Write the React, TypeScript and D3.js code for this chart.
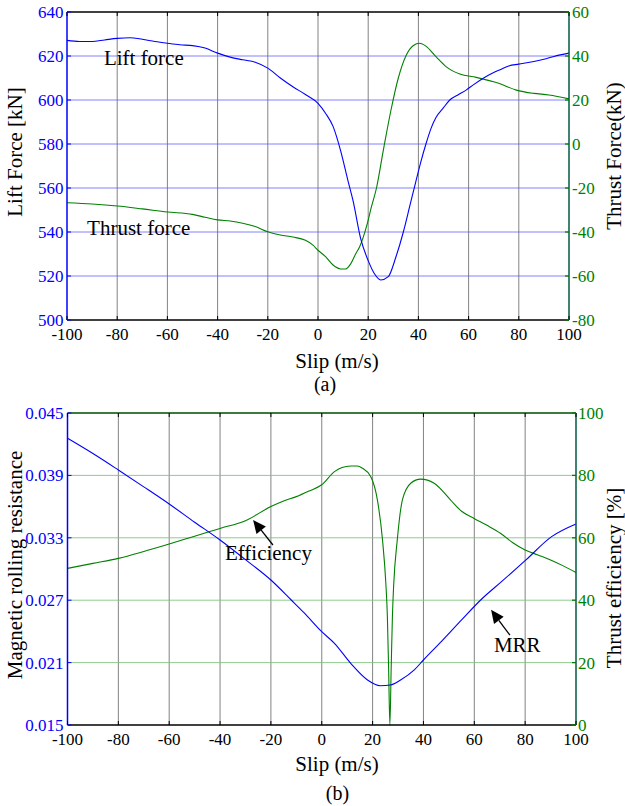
import React from "react";
import * as d3 from "d3";

// ---------- Data (a): Lift & thrust force vs slip ----------
const liftSlip = [-100, -95, -90, -85, -80, -75, -70, -65, -60, -55, -50, -45, -40, -35, -30, -25, -20, -15, -10, -5, 0, 3, 6, 9, 12, 14, 17, 20, 22.5, 25, 28, 31, 34, 36.5, 39, 41, 43, 45, 47, 50, 52.5, 56, 59, 62, 66, 70, 73, 76, 80, 86, 90, 94, 100];
const liftForce = [627.1, 626.6, 626.6, 627.3, 628.0, 628.3, 627.6, 626.6, 625.8, 625.1, 624.7, 623.6, 621.3, 619.5, 618.3, 617.2, 614.5, 610, 606, 602.5, 598.5, 594, 588, 577, 563, 554, 537, 527, 521, 518.2, 519.7, 528.5, 540, 551.5, 563, 572, 580, 587, 592, 596.5, 600, 602.5, 604.5, 607, 610, 612.5, 614, 615.5, 616.3, 617.5, 618.5, 619.8, 621.3];

const thrustSlip = [-100, -90, -80, -70, -60, -50, -45, -40, -35, -30, -25, -20, -15, -10, -5, -2, 0, 3, 6, 9, 11, 13, 15, 16.6, 19.3, 21.3, 23.3, 26, 29, 32, 35, 38, 40.5, 43, 47, 51, 56.5, 63, 72, 79, 86, 92, 100];
const thrustForce = [-26.7, -27.3, -28.2, -29.5, -30.9, -32, -33.3, -34.5, -35, -36, -37.5, -39.9, -41.4, -42.3, -43.8, -46, -48.3, -51.2, -55, -56.8, -56.8, -54.5, -50, -46.7, -37.6, -28.5, -20, -3, 15, 30, 40, 44.8, 45.8, 44.5, 39.7, 35.2, 31.8, 30.3, 27.6, 24.5, 23, 22.3, 20.5];

// ---------- Data (b): MRR & efficiency vs slip ----------
const mrrSlip = [-100, -90, -80, -70, -60, -50, -40, -30, -20, -12, -7, 0, 5, 11.4, 18, 23, 27, 31, 36.4, 40, 47, 55, 62.5, 70.7, 80.3, 90.4, 100];
const mrrValue = [0.04257, 0.0411, 0.03952, 0.0379, 0.03625, 0.0345, 0.03279, 0.0309, 0.02894, 0.02702, 0.0258, 0.02397, 0.02285, 0.02093, 0.01933, 0.01878, 0.01885, 0.01933, 0.0203, 0.02125, 0.02301, 0.0251, 0.02702, 0.02878, 0.03087, 0.03311, 0.03433];

const effSlip = [-100, -90, -80, -70, -60, -50, -40, -30, -20, -15, -10, -5, 0, 5, 8, 11.4, 14, 16, 19.3, 21.9, 23.9, 25.2, 25.8, 26.3, 26.8, 27.3, 27.8, 28.3, 29.7, 31.7, 35, 38.9, 44.2, 50.7, 55, 59.9, 65, 70.4, 75, 80, 85, 90, 95, 100];
const effValue = [50.2, 51.8, 53.4, 55.6, 58, 60.5, 63, 65.5, 70, 71.8, 73.2, 75, 77, 81.2, 82.5, 83, 83, 82.3, 79.6, 72.1, 59.3, 45.5, 35, 18, 0, 18, 35, 45, 59.3, 72.1, 77.5, 78.8, 77.5, 72.1, 68.5, 66.2, 64, 61.4, 58.5, 56.1, 54.5, 52.9, 51, 48.9];

// ---------- Ticks ----------
const xTicks = [-100, -80, -60, -40, -20, 0, 20, 40, 60, 80, 100];
const liftTicks = [500, 520, 540, 560, 580, 600, 620, 640];
const thrustTicks = [-80, -60, -40, -20, 0, 20, 40, 60];
const mrrTicks = [0.015, 0.021, 0.027, 0.033, 0.039, 0.045];
const effTicks = [0, 20, 40, 60, 80, 100];

const FONT = "'Liberation Serif', 'Times New Roman', serif";
const BLUE = "#0000ff";
const GREEN = "#008000";

const W = 625;
const H = 806;

export default function App() {
  // Panel (a)
  const a = { L: 67, R: 569, T: 12, B: 320 };
  const xa = d3.scaleLinear().domain([-100, 100]).range([a.L, a.R]);
  const yLift = d3.scaleLinear().domain([500, 640]).range([a.B, a.T]);
  const yThrust = d3.scaleLinear().domain([-80, 60]).range([a.B, a.T]);

  // Panel (b)
  const b = { L: 67.5, R: 576, T: 413, B: 725 };
  const xb = d3.scaleLinear().domain([-100, 100]).range([b.L, b.R]);
  const yMrr = d3.scaleLinear().domain([0.015, 0.045]).range([b.B, b.T]);
  const yEff = d3.scaleLinear().domain([0, 100]).range([b.B, b.T]);

  const mk = (xs: number[], ys: number[], sx: any, sy: any) =>
    d3
      .line<number>()
      .x((_, i) => sx(xs[i]))
      .y((d) => sy(d))
      .curve(d3.curveMonotoneX)(ys) || "";

  const liftPath = mk(liftSlip, liftForce, xa, yLift);
  const thrustPath = mk(thrustSlip, thrustForce, xa, yThrust);
  const mrrPath = mk(mrrSlip, mrrValue, xb, yMrr);
  const effPath = mk(effSlip, effValue, xb, yEff);

  const tickLen = 4;

  const arrow = (x1: number, y1: number, x2: number, y2: number) => {
    const ang = Math.atan2(y2 - y1, x2 - x1);
    const hl = 13;
    const hw = 6;
    const bx = x2 - hl * Math.cos(ang);
    const by = y2 - hl * Math.sin(ang);
    const px = -Math.sin(ang) * hw;
    const py = Math.cos(ang) * hw;
    return (
      <g>
        <line x1={x1} y1={y1} x2={bx} y2={by} stroke="#000" strokeWidth={1.3} />
        <polygon
          points={`${x2},${y2} ${bx + px},${by + py} ${bx - px},${by - py}`}
          fill="#000"
        />
      </g>
    );
  };

  return (
    <svg
      width={W}
      height={H}
      viewBox={`0 0 ${W} ${H}`}
      style={{ position: "absolute", left: 0, top: 0, background: "#fff" }}
      fontFamily={FONT}
    >
      <rect x={0} y={0} width={W} height={H} fill="#fff" />

      {/* ================= Panel (a) ================= */}
      {xTicks.slice(1, -1).map((t) => (
        <line key={"avg" + t} x1={xa(t)} x2={xa(t)} y1={a.T} y2={a.B} stroke="#6e6e6e" strokeWidth={1} opacity={0.85} />
      ))}
      {liftTicks.slice(1, -1).map((t) => (
        <line key={"ahg" + t} x1={a.L} x2={a.R} y1={yLift(t)} y2={yLift(t)} stroke="#5a5aff" strokeWidth={1} opacity={0.75} />
      ))}

      <path d={thrustPath} fill="none" stroke={GREEN} strokeWidth={1.1} />
      <path d={liftPath} fill="none" stroke={BLUE} strokeWidth={1.1} />

      <line x1={a.L} x2={a.R} y1={a.T} y2={a.T} stroke="#000" strokeWidth={1.3} />
      <line x1={a.L} x2={a.R} y1={a.B} y2={a.B} stroke="#000" strokeWidth={1.5} />
      <line x1={a.L} x2={a.L} y1={a.T} y2={a.B} stroke={BLUE} strokeWidth={1.5} />
      <line x1={a.R} x2={a.R} y1={a.T} y2={a.B} stroke="#005a40" strokeWidth={1.5} />

      {xTicks.map((t) => (
        <g key={"axt" + t}>
          <line x1={xa(t)} x2={xa(t)} y1={a.B} y2={a.B - tickLen} stroke="#000" />
          <line x1={xa(t)} x2={xa(t)} y1={a.T} y2={a.T + tickLen} stroke="#000" />
          <text x={xa(t)} y={340} textAnchor="middle" fontSize={17} fill="#000">
            {t}
          </text>
        </g>
      ))}
      {liftTicks.map((t) => (
        <g key={"alt" + t}>
          <line x1={a.L} x2={a.L + tickLen} y1={yLift(t)} y2={yLift(t)} stroke={BLUE} />
          <text x={63.5} y={yLift(t) + 6} textAnchor="end" fontSize={17} fill={BLUE}>
            {t}
          </text>
        </g>
      ))}
      {thrustTicks.map((t) => (
        <g key={"art" + t}>
          <line x1={a.R} x2={a.R - tickLen} y1={yThrust(t)} y2={yThrust(t)} stroke={GREEN} strokeWidth={1.3} />
          <text x={a.R + 3} y={yThrust(t) + 6} textAnchor="start" fontSize={17} fill={GREEN}>
            {t}
          </text>
        </g>
      ))}

      <text transform={`translate(22, 152) rotate(-90)`} textAnchor="middle" fontSize={21} fill="#000">
        Lift Force [kN]
      </text>
      <text transform={`translate(621, 156) rotate(-90)`} textAnchor="middle" fontSize={21} fill="#000">
        Thrust Force(kN)
      </text>
      <text x={337} y={368} textAnchor="middle" fontSize={21} fill="#000">
        Slip (m/s)
      </text>
      <text x={325} y={391} textAnchor="middle" fontSize={20} fill="#000">
        (a)
      </text>

      <text x={xa(-85.3)} y={yLift(615.9)} fontSize={21} fill="#000">
        Lift force
      </text>
      <text x={xa(-92)} y={yLift(538.6)} fontSize={21} fill="#000">
        Thrust force
      </text>

      {/* ================= Panel (b) ================= */}
      {xTicks.slice(1, -1).map((t) => (
        <line key={"bvg" + t} x1={xb(t)} x2={xb(t)} y1={b.T} y2={b.B} stroke="#6e6e6e" strokeWidth={1} opacity={0.85} />
      ))}
      {effTicks.slice(1, -1).map((t) => (
        <line key={"bhg" + t} x1={b.L} x2={b.R} y1={yEff(t)} y2={yEff(t)} stroke="#7cc47c" strokeWidth={1} opacity={0.85} />
      ))}

      <path d={effPath} fill="none" stroke={GREEN} strokeWidth={1.1} />
      <path d={mrrPath} fill="none" stroke={BLUE} strokeWidth={1.1} />

      <line x1={b.L} x2={b.R} y1={b.T} y2={b.T} stroke="#004d00" strokeWidth={1.3} />
      <line x1={b.L} x2={b.R} y1={b.B} y2={b.B} stroke="#000" strokeWidth={1.5} />
      <line x1={b.L} x2={b.L} y1={b.T} y2={b.B} stroke={BLUE} strokeWidth={1.5} />
      <line x1={b.R} x2={b.R} y1={b.T} y2={b.B} stroke="#005a40" strokeWidth={1.5} />

      {xTicks.map((t) => (
        <g key={"bxt" + t}>
          <line x1={xb(t)} x2={xb(t)} y1={b.B} y2={b.B - tickLen} stroke="#000" />
          <line x1={xb(t)} x2={xb(t)} y1={b.T} y2={b.T + tickLen} stroke="#000" />
          <text x={xb(t)} y={745} textAnchor="middle" fontSize={17} fill="#000">
            {t}
          </text>
        </g>
      ))}
      {mrrTicks.map((t) => (
        <g key={"blt" + t}>
          <line x1={b.L} x2={b.L + tickLen} y1={yMrr(t)} y2={yMrr(t)} stroke={BLUE} />
          <text x={63.5} y={yMrr(t) + 6} textAnchor="end" fontSize={17} fill={BLUE}>
            {t.toFixed(3)}
          </text>
        </g>
      ))}
      {effTicks.map((t) => (
        <g key={"brt" + t}>
          <line x1={b.R} x2={b.R - tickLen} y1={yEff(t)} y2={yEff(t)} stroke={GREEN} strokeWidth={1.3} />
          <text x={b.R + 2} y={yEff(t) + 6} textAnchor="start" fontSize={17} fill={GREEN}>
            {t}
          </text>
        </g>
      ))}

      <text transform={`translate(22, 565) rotate(-90)`} textAnchor="middle" fontSize={21} fill="#000">
        Magnetic rolling resistance
      </text>
      <text transform={`translate(621, 578) rotate(-90)`} textAnchor="middle" fontSize={21} fill="#000">
        Thrust efficiency [%]
      </text>
      <text x={337} y={771} textAnchor="middle" fontSize={21} fill="#000">
        Slip (m/s)
      </text>
      <text x={337.5} y={800} textAnchor="middle" fontSize={20} fill="#000">
        (b)
      </text>

      {arrow(xb(-19.2), yEff(57.7), xb(-27), yEff(65.7))}
      <text x={xb(-38.1)} y={yEff(52.9)} fontSize={21} fill="#000">
        Efficiency
      </text>
      {arrow(xb(74), yEff(28.8), xb(66.6), yEff(36.9))}
      <text x={xb(67.7)} y={yEff(23.4)} fontSize={21} fill="#000">
        MRR
      </text>
    </svg>
  );
}
